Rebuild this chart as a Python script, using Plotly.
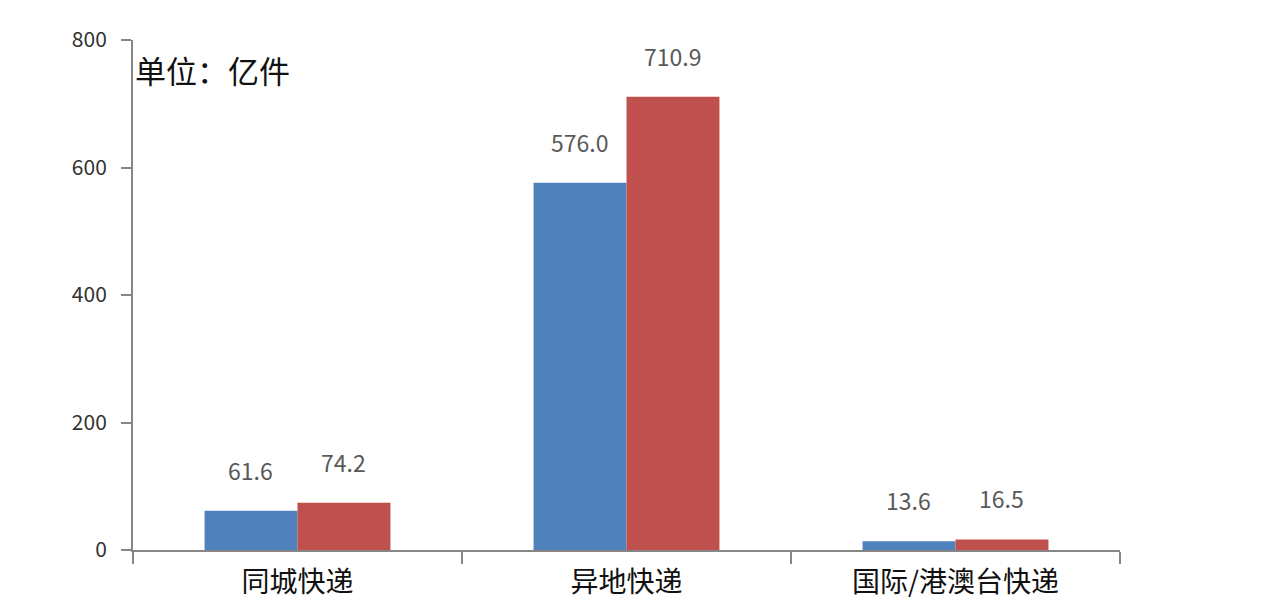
import plotly.graph_objects as go

# 分专业快递业务量（亿件）
categories = ["同城快递", "异地快递", "国际/港澳台快递"]
series_a = [61.6, 576.0, 13.6]
series_b = [74.2, 710.9, 16.5]
y_ticks = [0, 200, 400, 600, 800]

blue = "#4F81BD"
red = "#C0504D"
font_cn = "Noto Sans CJK SC"

fig = go.Figure()
fig.add_trace(go.Bar(x=categories, y=series_a, marker_color=blue,
                     marker_line_width=0, name="A"))
fig.add_trace(go.Bar(x=categories, y=series_b, marker_color=red,
                     marker_line_width=0, name="B"))

# 数据标签（柱顶上方）
for vals, shift in ((series_a, -47), (series_b, 46)):
    for c, v in zip(categories, vals):
        fig.add_annotation(x=c, y=v, xref="x", yref="y", text=f"{v:.1f}",
                           showarrow=False, xshift=shift, yshift=41,
                           font=dict(family=font_cn, size=23, color="#595959"))

fig.add_annotation(x=0, y=1, xref="paper", yref="paper", xanchor="left",
                   yanchor="top", text="单位：亿件", showarrow=False,
                   xshift=0, yshift=-5,
                   font=dict(family=font_cn, size=31, color="#111111"))

# 页面 body 默认有 8px 边距，这里的边距已扣除
fig.update_layout(
    width=1270, height=608,
    margin=dict(l=125, r=158, t=32, b=66),
    paper_bgcolor="white", plot_bgcolor="white",
    barmode="group", bargap=0.435, bargroupgap=0,
    showlegend=False,
    font=dict(family=font_cn, color="#222222"),
)
fig.update_xaxes(type="category", showline=True, linecolor="#868686",
                 linewidth=2, ticks="outside", tickson="boundaries",
                 ticklen=12, tickcolor="#868686", tickwidth=2,
                 ticklabelstandoff=6,
                 showgrid=False, tickfont=dict(size=28, color="#111111"))
fig.update_yaxes(range=[0, 800], tickvals=y_ticks, showline=True,
                 linecolor="#868686", linewidth=2, ticks="outside",
                 ticklen=10, tickcolor="#868686", tickwidth=2,
                 ticklabelstandoff=10,
                 showgrid=False, zeroline=False,
                 tickfont=dict(size=21, color="#333333"))

fig.write_html("out.html")
